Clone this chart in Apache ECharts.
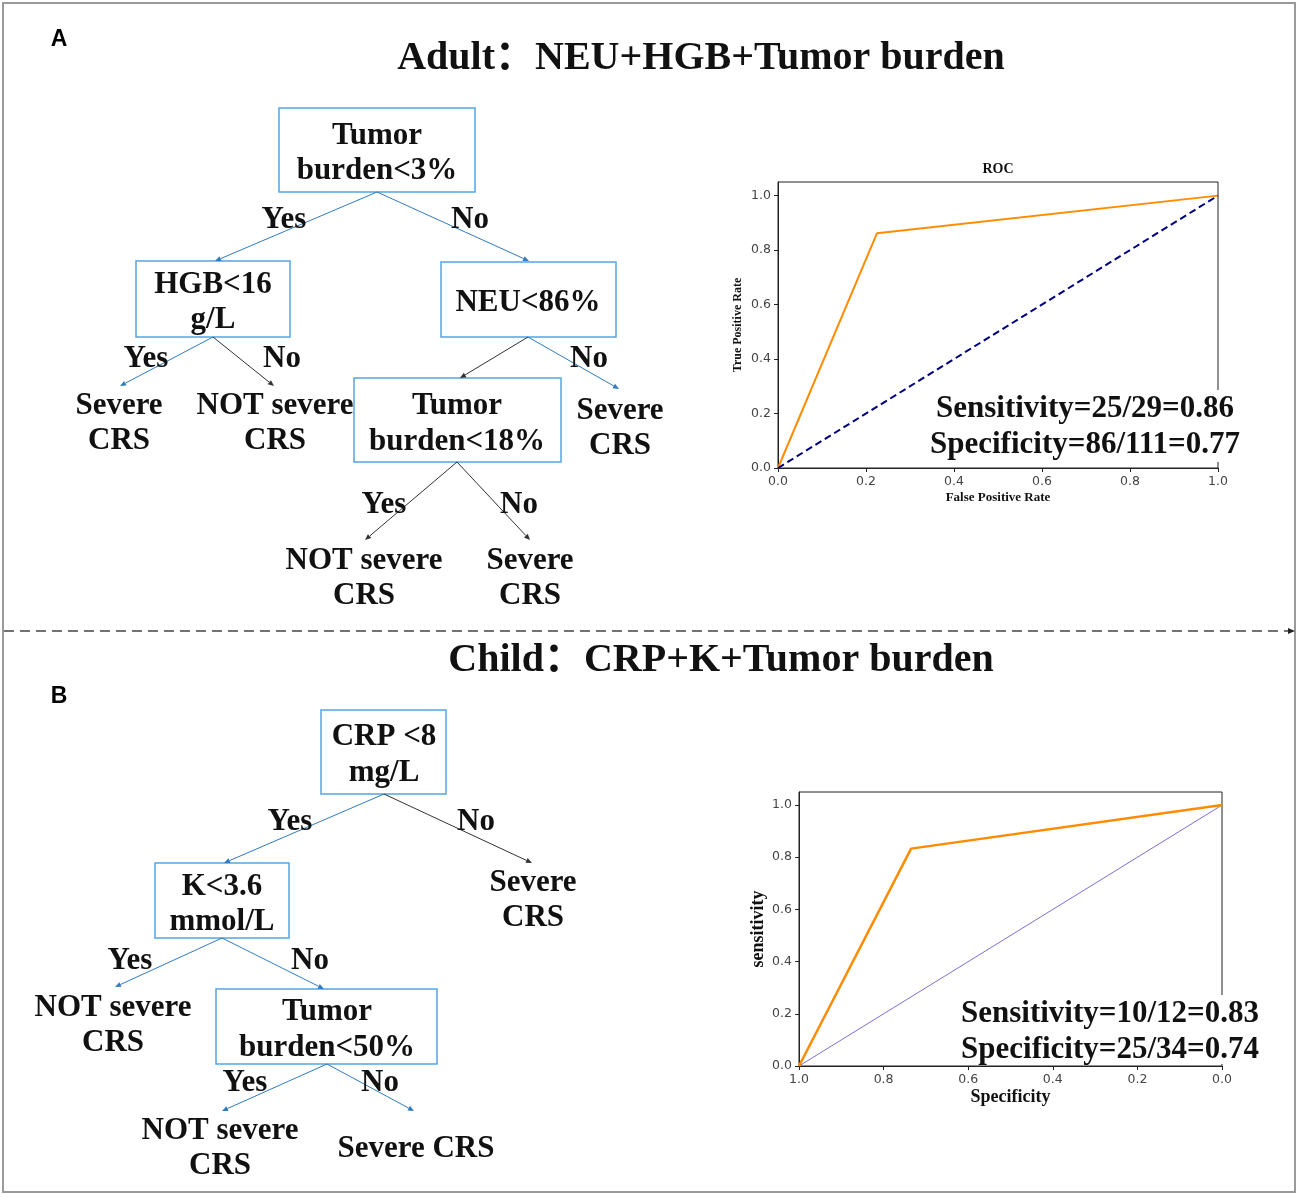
<!DOCTYPE html>
<html><head><meta charset="utf-8">
<script src="https://cdn.jsdelivr.net/npm/echarts@6/dist/echarts.min.js"></script>
<style>html,body{margin:0;padding:0;background:#fff}#c{width:1299px;height:1197px}</style>
</head><body><div id="c"></div>
<script>
// ---------------- data ----------------
const rocTicks = [0, 0.2, 0.4, 0.6, 0.8, 1.0];
const rocA_fpr = [0, 0.225, 1];
const rocA_tpr = [0, 0.862, 1];
const rocA_chanceX = [0, 1];
const rocA_chanceY = [0, 1];
const rocB_spec = [1, 0.735, 0];
const rocB_sens = [0, 0.833, 1];
const rocB_chanceSpec = [1, 0];
const rocB_chanceSens = [0, 1];
const statsA = ['Sensitivity=25/29=0.86', 'Specificity=86/111=0.77'];
const statsB = ['Sensitivity=10/12=0.83', 'Specificity=25/34=0.74'];
const titleA = 'Adult：NEU+HGB+Tumor burden';
const titleB = 'Child：CRP+K+Tumor burden';
const treeA_boxText = [['Tumor', 'burden<3%'], ['HGB<16', 'g/L'], ['NEU<86%'], ['Tumor', 'burden<18%']];
const treeA_leafText = [['Severe', 'CRS'], ['NOT severe', 'CRS'], ['Severe', 'CRS'], ['NOT severe', 'CRS'], ['Severe', 'CRS']];
const treeA_edgeText = ['Yes', 'No', 'Yes', 'No', 'No', 'Yes', 'No'];
const treeB_boxText = [['CRP <8', 'mg/L'], ['K<3.6', 'mmol/L'], ['Tumor', 'burden<50%']];
const treeB_leafText = [['Severe', 'CRS'], ['NOT severe', 'CRS'], ['NOT severe', 'CRS'], ['Severe CRS']];
const treeB_edgeText = ['Yes', 'No', 'Yes', 'No', 'Yes', 'No'];

// ---------------- layout ----------------
const SERIF = '"Liberation Serif","Times New Roman","Noto Sans CJK SC",serif';
const SANS = '"Liberation Sans",Arial,sans-serif';
const BOXC = '#52A5E3', BLUE = '#2F7BBF', DARK = '#333';
const G = [];
const DY = 3;
function text(x, y, s, size, extra) {
  G.push(Object.assign({type: 'text', x: x, y: y + DY, z: 20,
    style: {text: s, font: 'bold ' + size + 'px ' + SERIF, fill: '#111', textAlign: 'center', textVerticalAlign: 'middle'}}, extra || {}));
}
function lines(cx, ys, arr, size) { arr.forEach((s, i) => text(cx, ys[i], s, size)); }
function box(x1, y1, x2, y2) {
  G.push({type: 'rect', z: 10, shape: {x: x1, y: y1, width: x2 - x1, height: y2 - y1},
    style: {fill: '#fff', stroke: BOXC, lineWidth: 1.5}});
}
function edge(x1, y1, x2, y2, color) {
  const a = Math.atan2(y2 - y1, x2 - x1), L = 6, W = 2.6;
  const bx = x2 - L * Math.cos(a), by = y2 - L * Math.sin(a);
  G.push({type: 'line', z: 12, shape: {x1: x1, y1: y1, x2: bx, y2: by}, style: {stroke: color, lineWidth: 1}});
  G.push({type: 'polygon', z: 12, shape: {points: [[x2, y2], [bx - W * Math.sin(a), by + W * Math.cos(a)], [bx + W * Math.sin(a), by - W * Math.cos(a)]]},
    style: {fill: color}});
}
const FS = 31;
// outer border & divider
G.push({type: 'rect', z: 1, shape: {x: 3, y: 3, width: 1292, height: 1189}, style: {fill: 'none', stroke: '#9a9a9a', lineWidth: 2}});
G.push({type: 'line', z: 1, shape: {x1: 4, y1: 631, x2: 1288, y2: 631}, style: {stroke: '#444', lineWidth: 1.3, lineDash: [10, 6]}});
G.push({type: 'polygon', z: 1, shape: {points: [[1295, 631], [1288, 628], [1288, 634]]}, style: {fill: '#222'}});
// panel letters & titles
G.push({type: 'text', x: 59, y: 40, z: 20, style: {text: 'A', font: 'bold 23px ' + SANS, fill: '#000', textAlign: 'center', textVerticalAlign: 'middle'}});
G.push({type: 'text', x: 59, y: 697, z: 20, style: {text: 'B', font: 'bold 23px ' + SANS, fill: '#000', textAlign: 'center', textVerticalAlign: 'middle'}});
text(701, 56, titleA, 40);
text(721, 658, titleB, 40);

// ---- tree A ----
box(279, 108, 475, 192); lines(377, [133, 168], treeA_boxText[0], FS);
box(136, 261, 290, 337); lines(213, [282, 317], treeA_boxText[1], FS);
box(441, 262, 616, 337); lines(528, [300], treeA_boxText[2], FS);
box(354, 378, 561, 462); lines(457, [403, 439], treeA_boxText[3], FS);
edge(377, 192, 215, 261, BLUE);
edge(377, 192, 529, 261, BLUE);
edge(213, 337, 120, 386, BLUE);
edge(213, 337, 274, 386, DARK);
edge(528, 337, 460, 378, DARK);
edge(528, 337, 619, 389, BLUE);
edge(457, 462, 365, 540, DARK);
edge(457, 462, 530, 540, DARK);
const eA = [[284, 217], [470, 217], [146, 356], [282, 356], [589, 356], [384, 502], [519, 502]];
treeA_edgeText.forEach((s, i) => text(eA[i][0], eA[i][1], s, FS));
const lA = [[119, 403], [275, 403], [620, 408], [364, 558], [530, 558]];
treeA_leafText.forEach((arr, i) => lines(lA[i][0], [lA[i][1], lA[i][1] + 35], arr, FS));

// ---- tree B ----
box(321, 710, 446, 794); lines(384, [734, 770], treeB_boxText[0], FS);
box(155, 863, 289, 938); lines(222, [884, 919], treeB_boxText[1], FS);
box(216, 989, 437, 1064); lines(327, [1009, 1045], treeB_boxText[2], FS);
edge(384, 794, 224, 863, BLUE);
edge(384, 794, 532, 863, DARK);
edge(222, 938, 115, 987, BLUE);
edge(222, 938, 324, 989, BLUE);
edge(327, 1064, 222, 1111, BLUE);
edge(327, 1064, 414, 1111, BLUE);
const eB = [[290, 819], [476, 819], [130, 958], [310, 958], [245, 1080], [380, 1080]];
treeB_edgeText.forEach((s, i) => text(eB[i][0], eB[i][1], s, FS));
const lB = [[533, 880], [113, 1005], [220, 1128], [416, 1146]];
treeB_leafText.forEach((arr, i) => lines(lB[i][0], [lB[i][1], lB[i][1] + 35], arr, FS));

// ---- ROC extras ----
G.push({type: 'text', x: 998, y: 169, z: 20, style: {text: 'ROC', font: 'bold 14px ' + SERIF, fill: '#111', textAlign: 'center', textVerticalAlign: 'middle'}});
G.push({type: 'rect', z: 50, shape: {x: 922, y: 390, width: 328, height: 72}, style: {fill: '#fff'}});
text(1085, 406, statsA[0], FS, {z: 51});
text(1085, 442, statsA[1], FS, {z: 51});
G.push({type: 'rect', z: 50, shape: {x: 954, y: 995, width: 314, height: 69}, style: {fill: '#fff'}});
text(1110, 1011, statsB[0], FS, {z: 51});
text(1110, 1047, statsB[1], FS, {z: 51});

function axisCommon(extra) {
  return Object.assign({
    type: 'value', min: 0, interval: 0.2,
    axisLine: {show: true, onZero: false, lineStyle: {color: '#222', width: 1}},
    axisTick: {show: true, length: 4, lineStyle: {color: '#222'}, customValues: rocTicks},
    axisLabel: {customValues: rocTicks, formatter: v => v.toFixed(1), fontFamily: 'DejaVu Sans', fontSize: 12.5, color: '#444', margin: 7},
    splitLine: {show: false},
    nameLocation: 'middle',
    nameTextStyle: {fontFamily: SERIF, fontWeight: 'bold', color: '#111'}
  }, extra);
}

const chart = echarts.init(document.getElementById('c'), null, {renderer: 'canvas'});
chart.setOption({
  animation: false,
  backgroundColor: '#fff',
  grid: [
    {left: 778, top: 182, width: 440, height: 286, show: true, borderColor: '#222', borderWidth: 1, backgroundColor: 'transparent'},
    {left: 799, top: 792, width: 423, height: 274, show: true, borderColor: '#222', borderWidth: 1, backgroundColor: 'transparent'}
  ],
  xAxis: [
    axisCommon({gridIndex: 0, max: 1, name: 'False Positive Rate', nameGap: 23, nameTextStyle: {fontFamily: SERIF, fontWeight: 'bold', fontSize: 13, color: '#111'}}),
    axisCommon({gridIndex: 1, max: 1, inverse: true, name: 'Specificity', nameGap: 22, nameTextStyle: {fontFamily: SERIF, fontWeight: 'bold', fontSize: 18, color: '#111'}})
  ],
  yAxis: [
    axisCommon({gridIndex: 0, max: 1.05, name: 'True Positive Rate', nameGap: 34, nameTextStyle: {fontFamily: SERIF, fontWeight: 'bold', fontSize: 12, color: '#111'}}),
    axisCommon({gridIndex: 1, max: 1.05, name: 'sensitivity', nameGap: 32, nameTextStyle: {fontFamily: SERIF, fontWeight: 'bold', fontSize: 18, color: '#111'}})
  ],
  series: [
    {type: 'line', xAxisIndex: 0, yAxisIndex: 0, data: rocA_fpr.map((x, i) => [x, rocA_tpr[i]]), symbol: 'none', lineStyle: {color: '#FF8C00', width: 2}, z: 3},
    {type: 'line', xAxisIndex: 0, yAxisIndex: 0, data: rocA_chanceX.map((x, i) => [x, rocA_chanceY[i]]), symbol: 'none', lineStyle: {color: '#000080', width: 2, type: [7, 4]}, z: 4},
    {type: 'line', xAxisIndex: 1, yAxisIndex: 1, data: rocB_chanceSpec.map((x, i) => [x, rocB_chanceSens[i]]), symbol: 'none', lineStyle: {color: '#7B6FD6', width: 1}, z: 3},
    {type: 'line', xAxisIndex: 1, yAxisIndex: 1, data: rocB_spec.map((x, i) => [x, rocB_sens[i]]), symbol: 'none', lineStyle: {color: '#FF8C00', width: 2.5}, z: 4}
  ],
  graphic: G
});
</script></body></html>
